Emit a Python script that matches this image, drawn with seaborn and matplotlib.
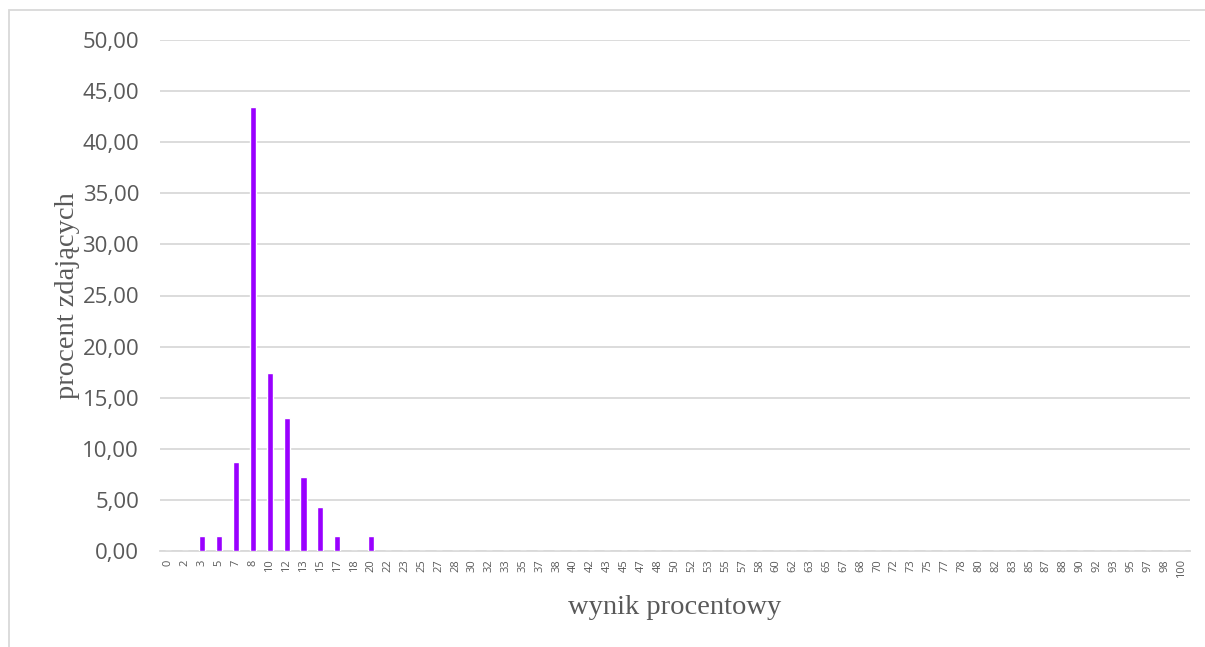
import matplotlib
matplotlib.use("Agg")
import matplotlib.pyplot as plt
import seaborn as sns
from matplotlib.patches import Rectangle
from matplotlib.ticker import FuncFormatter

# Score categories (percent) and share of test takers
wynik = ["0", "2", "3", "5", "7", "8", "10", "12", "13", "15", "17", "18", "20",
         "22", "23", "25", "27", "28", "30", "32", "33", "35", "37", "38", "40",
         "42", "43", "45", "47", "48", "50", "52", "53", "55", "57", "58", "60",
         "62", "63", "65", "67", "68", "70", "72", "73", "75", "77", "78", "80",
         "82", "83", "85", "87", "88", "90", "92", "93", "95", "97", "98", "100"]
procent = [0.00, 0.00, 1.45, 1.45, 8.70, 43.48, 17.39, 13.04, 7.25, 4.35, 1.45, 0.00, 1.45]
procent = procent + [0.00] * (len(wynik) - len(procent))

sns.set_style("white")
plt.rcParams['font.family'] = ['Open Sans', 'DejaVu Sans']

fig = plt.figure(figsize=(12.05, 6.47), dpi=100)
ax = fig.add_axes([160 / 1205, 96 / 647, 1030 / 1205, 511 / 647])

sns.barplot(x=wynik, y=procent, color="#9900FF", width=0.36, saturation=1,
            ax=ax, zorder=3)

ax.set_ylim(0, 50)
ax.set_yticks(range(0, 51, 5))
ax.yaxis.set_major_formatter(FuncFormatter(lambda v, p: f"{v:.2f}".replace(".", ",")))
ax.grid(axis="y", color="#d9d9d9", linewidth=1.3, zorder=0)
ax.set_xlim(-0.5, len(wynik) - 0.5)

for s in ["top", "right", "left"]:
    ax.spines[s].set_visible(False)
ax.spines["bottom"].set_color("#d9d9d9")
ax.spines["bottom"].set_linewidth(1.3)

ax.tick_params(axis="y", labelsize=16, colors="#595959", length=0, pad=15)
ax.tick_params(axis="x", labelsize=8, colors="#595959", length=0, rotation=90, pad=6)

serif = ["Liberation Serif", "DejaVu Serif"]
ax.set_xlabel("wynik procentowy", fontsize=20.5, color="#595959", family=serif, labelpad=12)
ax.set_ylabel("procent zdających", fontsize=20.5, color="#595959", family=serif, labelpad=2)

# outer chart border
fig.patches.append(Rectangle((9 / 1205, -0.1), 1.2, (637 / 647) + 0.1,
                             transform=fig.transFigure, fill=False,
                             edgecolor="#d9d9d9", linewidth=1.3))

fig.savefig("out.png", dpi=100)
